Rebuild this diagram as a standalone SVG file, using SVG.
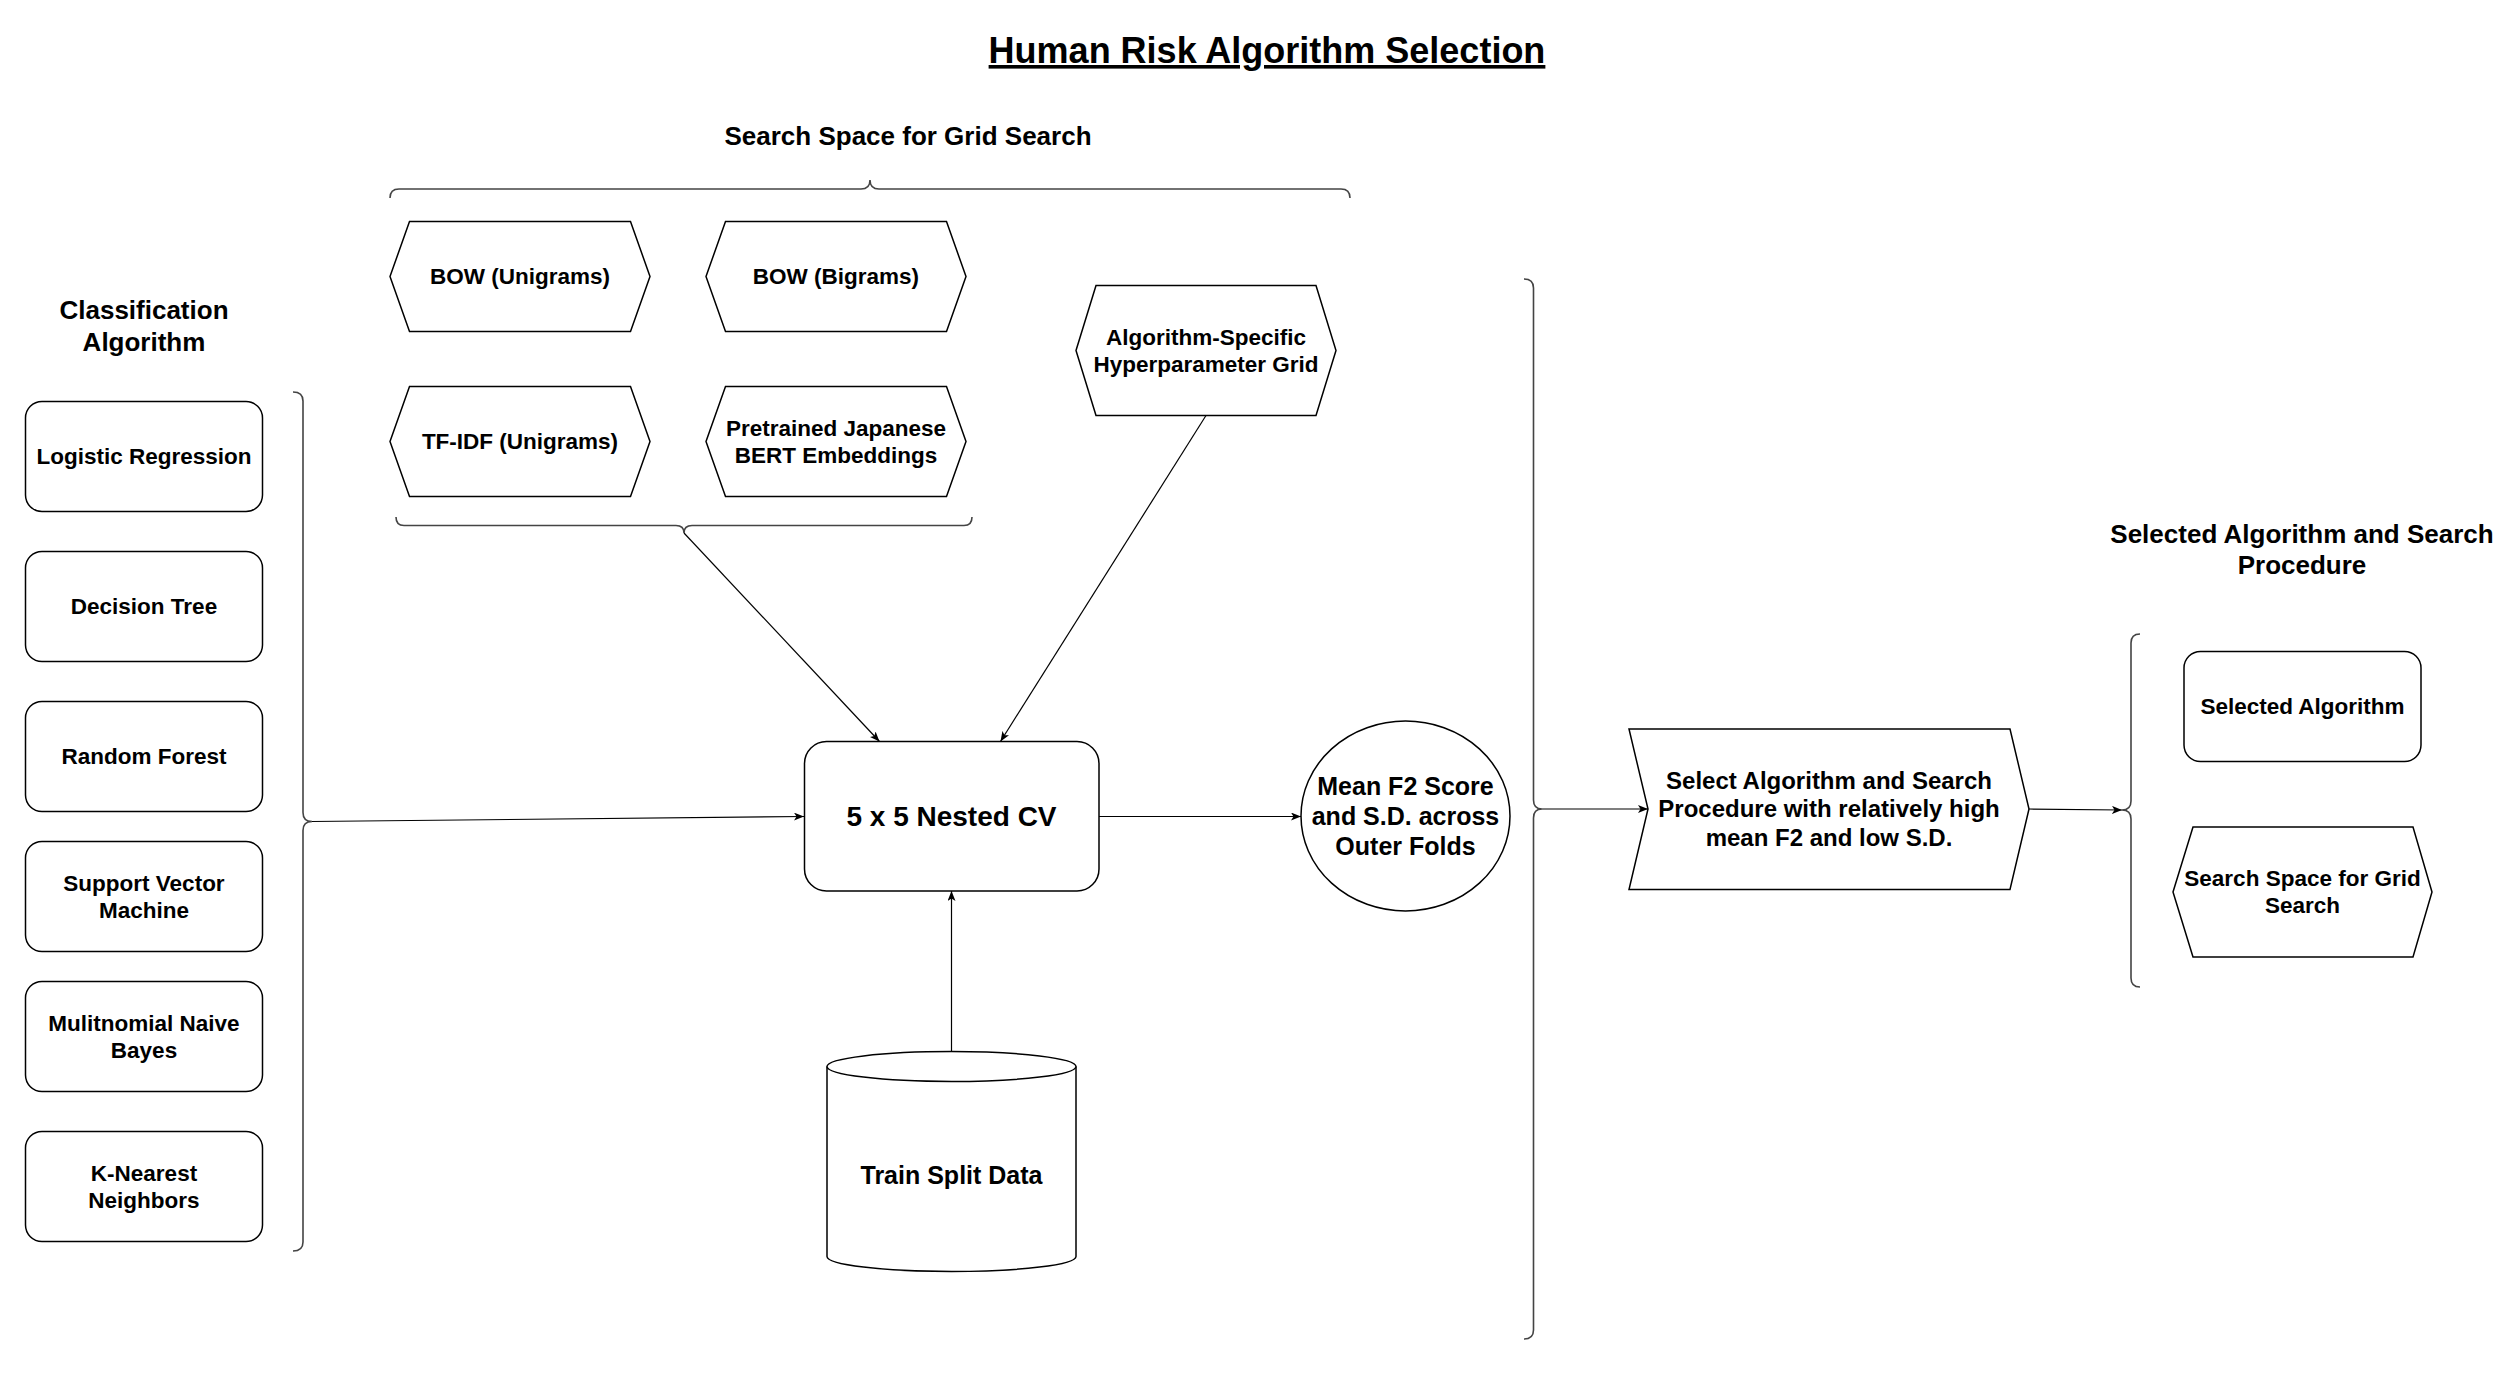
<svg xmlns="http://www.w3.org/2000/svg" width="2517" height="1375" viewBox="0 0 2517 1375">
<defs>
<style>
.node{fill:#fff;stroke:#000;stroke-width:1.5}
.t{font-family:"Liberation Sans",Arial,Helvetica,sans-serif;font-weight:bold;text-anchor:middle;fill:#000}
.s225{font-size:22.5px}
.s24{font-size:24px}
.s25{font-size:25px}
.s26{font-size:26px}
.s28{font-size:28px}
.conn{fill:none;stroke:#000;stroke-width:1.2;marker-end:url(#arrow)}
.brace{fill:none;stroke:#444;stroke-width:1.6}
</style>
<marker id="arrow" viewBox="0 0 10 8" refX="10" refY="4" markerWidth="10" markerHeight="8" markerUnits="userSpaceOnUse" orient="auto">
<path d="M0,0 L10,4 L0,8 L2.5,4 Z" fill="#000"/>
</marker>
</defs>
<rect width="2517" height="1375" fill="#fff"/>

<g id="title"><text class="t" x="1267" y="63" font-size="36" text-decoration="underline">Human Risk Algorithm Selection</text></g>
<g id="heading-search-space"><text class="t s26" x="908" y="145">Search Space for Grid Search</text></g>
<g id="heading-classification"><text class="t s26" x="144" y="319">Classification</text><text class="t s26" x="144" y="350.5">Algorithm</text></g>
<g id="heading-selected"><text class="t s26" x="2302" y="542.5">Selected Algorithm and Search</text><text class="t s26" x="2302" y="574">Procedure</text></g>

<g id="brace-top"><path class="brace" d="M390,198 Q390,189 399,189 L861,189 Q870,189 870,180 Q870,189 879,189 L1341,189 Q1350,189 1350,198"/></g>
<g id="brace-features"><path class="brace" d="M396,517 Q396,525.5 404,525.5 L676,525.5 Q684,525.5 684,533 Q684,525.5 692,525.5 L964,525.5 Q972,525.5 972,517"/></g>
<g id="bracket-algorithms"><path class="brace" d="M293,392 Q303,392 303,401 L303,812.5 Q303,821.5 312,821.5 Q303,821.5 303,830.5 L303,1242 Q303,1251 293,1251"/></g>
<g id="bracket-results"><path class="brace" d="M1524,279 Q1533.5,279 1533.5,288 L1533.5,800 Q1533.5,809 1542,809 Q1533.5,809 1533.5,818 L1533.5,1330 Q1533.5,1339 1524,1339"/></g>
<g id="bracket-selected"><path class="brace" d="M2140,634 Q2131,634 2131,643 L2131,801 Q2131,810 2122,810 Q2131,810 2131,819 L2131,978 Q2131,987 2140,987"/></g>

<g id="lr"><rect class="node" x="25.5" y="401.5" width="237" height="110" rx="16.5"/><text class="t s225" x="144" y="464.3">Logistic Regression</text></g>
<g id="dt"><rect class="node" x="25.5" y="551.5" width="237" height="110" rx="16.5"/><text class="t s225" x="144" y="614.3">Decision Tree</text></g>
<g id="rf"><rect class="node" x="25.5" y="701.5" width="237" height="110" rx="16.5"/><text class="t s225" x="144" y="764.3">Random Forest</text></g>
<g id="svm"><rect class="node" x="25.5" y="841.5" width="237" height="110" rx="16.5"/><text class="t s225" x="144" y="890.8">Support Vector</text><text class="t s225" x="144" y="917.8">Machine</text></g>
<g id="mnb"><rect class="node" x="25.5" y="981.5" width="237" height="110" rx="16.5"/><text class="t s225" x="144" y="1030.8">Mulitnomial Naive</text><text class="t s225" x="144" y="1057.8">Bayes</text></g>
<g id="knn"><rect class="node" x="25.5" y="1131.5" width="237" height="110" rx="16.5"/><text class="t s225" x="144" y="1180.8">K-Nearest</text><text class="t s225" x="144" y="1207.8">Neighbors</text></g>

<g id="bow-uni"><path class="node" d="M390,276.5 L409.5,221.5 L630.5,221.5 L650,276.5 L630.5,331.5 L409.5,331.5 Z"/><text class="t s225" x="520" y="284.3">BOW (Unigrams)</text></g>
<g id="bow-bi"><path class="node" d="M706,276.5 L725.5,221.5 L946.5,221.5 L966,276.5 L946.5,331.5 L725.5,331.5 Z"/><text class="t s225" x="836" y="284.3">BOW (Bigrams)</text></g>
<g id="tfidf"><path class="node" d="M390,441.5 L409.5,386.5 L630.5,386.5 L650,441.5 L630.5,496.5 L409.5,496.5 Z"/><text class="t s225" x="520" y="449.3">TF-IDF (Unigrams)</text></g>
<g id="bert"><path class="node" d="M706,441.5 L725.5,386.5 L946.5,386.5 L966,441.5 L946.5,496.5 L725.5,496.5 Z"/><text class="t s225" x="836" y="435.8">Pretrained Japanese</text><text class="t s225" x="836" y="462.8">BERT Embeddings</text></g>
<g id="hyper"><path class="node" d="M1076,350.5 L1096,285.5 L1316,285.5 L1336,350.5 L1316,415.5 L1096,415.5 Z"/><text class="t s225" x="1206" y="344.8">Algorithm-Specific</text><text class="t s225" x="1206" y="371.8">Hyperparameter Grid</text></g>

<g id="nested-cv"><rect class="node" x="804.5" y="741.5" width="294.5" height="149.5" rx="22"/><text class="t s28" x="951.5" y="826.2">5 x 5 Nested CV</text></g>
<g id="train-data"><path class="node" d="M827,1066.5 L827,1256.5 A124.5,15 0 0 0 1076,1256.5 L1076,1066.5"/><ellipse class="node" cx="951.5" cy="1066.5" rx="124.5" ry="15"/><text class="t s25" x="951.5" y="1183.7">Train Split Data</text></g>
<g id="mean-f2"><ellipse class="node" cx="1405.5" cy="816" rx="104.5" ry="95"/><text class="t s25" x="1405.5" y="795.2">Mean F2 Score</text><text class="t s25" x="1405.5" y="825.2">and S.D. across</text><text class="t s25" x="1405.5" y="855.2">Outer Folds</text></g>
<g id="select"><path class="node" d="M1629,729 L2010,729 L2029,809 L2010,889.5 L1629,889.5 L1648,809 Z"/><text class="t s24" x="1829" y="788.5">Select Algorithm and Search</text><text class="t s24" x="1829" y="817.3">Procedure with relatively high</text><text class="t s24" x="1829" y="846.1">mean F2 and low S.D.</text></g>
<g id="selected-alg"><rect class="node" x="2184" y="651.5" width="237" height="110" rx="16.5"/><text class="t s225" x="2302.5" y="714.3">Selected Algorithm</text></g>
<g id="selected-space"><path class="node" d="M2173,892 L2193,827 L2413,827 L2432,892 L2413,957 L2193,957 Z"/><text class="t s225" x="2302.5" y="886.3">Search Space for Grid</text><text class="t s225" x="2302.5" y="913.3">Search</text></g>

<g id="connectors">
<path class="conn" d="M312,821.5 L804,816.5"/>
<path class="conn" d="M684,533 L879.5,741.5"/>
<path class="conn" d="M1206,415.5 L1000.5,741.5"/>
<path class="conn" d="M951.5,1051.5 L951.5,891"/>
<path class="conn" d="M1099,816.5 L1301,816.5"/>
<path class="conn" d="M1542,809 L1648,809"/>
<path class="conn" d="M2029,809 L2122,810"/>
</g>
</svg>
